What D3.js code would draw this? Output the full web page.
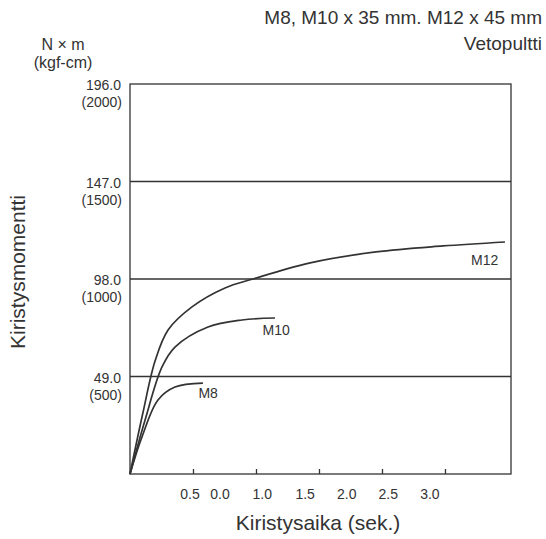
<!DOCTYPE html><html><head><meta charset="utf-8"><script src="https://cdn.jsdelivr.net/npm/d3@7"></script>
<style>body{margin:0;background:#fff}text{font-family:Arial,"Liberation Sans",sans-serif;fill:#333}</style></head><body><script>
const yTicks=[49,98,147,196];
const yTickSub=["(500)","(1000)","(1500)","(2000)"];
const yTickMain=["49.0","98.0","147.0","196.0"];
const xTickMarks=[0.5,1.0,1.5,2.0,2.5];
const xLabels=["0.5","0.0","1.0","1.5","2.0","2.5","3.0"];
const xLabelPos=[0.476,0.714,1.05,1.39,1.72,2.05,2.38];
const m12=[[0,0],[0.1,30],[0.2,57],[0.302,72.4],[0.492,84],[0.754,93.5],[0.976,98],[1.421,106],[1.952,111.6],[2.484,114.6],[2.976,116.6]];
const m10=[[0,0],[0.119,27],[0.254,53.8],[0.357,63.8],[0.619,73.9],[0.889,77.4],[1.151,78.4]];
const m8=[[0,0],[0.095,18.6],[0.222,37.2],[0.357,43.7],[0.579,45.7]];
const series=[{name:"M12",d:m12,lx:2.815,ly:105},{name:"M10",d:m10,lx:1.16,ly:70},{name:"M8",d:m8,lx:0.62,ly:38}];
const W=546,H=539,L=130,R=511,T=84,B=474;
const svg=d3.select("body").append("svg").attr("width",W).attr("height",H);
const x=d3.scaleLinear().domain([0,3.024]).range([L,R]);
const y=d3.scaleLinear().domain([0,196]).range([B,T]);
const c="#333";
svg.append("rect").attr("x",L).attr("y",T).attr("width",R-L).attr("height",B-T).attr("fill","none").attr("stroke",c).attr("stroke-width",1.3);
yTicks.forEach((v,i)=>{
  if(v<196) svg.append("line").attr("x1",L).attr("x2",R).attr("y1",y(v)).attr("y2",y(v)).attr("stroke",c).attr("stroke-width",1.3);
  svg.append("text").attr("x",121).attr("y",y(v)+6).attr("text-anchor","end").attr("font-size",14).text(yTickMain[i]);
  svg.append("text").attr("x",122).attr("y",y(v)+23).attr("text-anchor","end").attr("font-size",14).text(yTickSub[i]);
});
const xa=svg.append("g").attr("transform",`translate(0,${B})`).call(d3.axisTop(x).tickValues(xTickMarks).tickSize(5).tickFormat(""));
xa.select(".domain").remove();xa.selectAll("line").attr("stroke",c).attr("stroke-width",1.3);
xLabels.forEach((t,i)=>svg.append("text").attr("x",x(xLabelPos[i])).attr("y",499).attr("text-anchor","middle").attr("font-size",14).text(t));
const line=d3.line().x(d=>x(d[0])).y(d=>y(d[1])).curve(d3.curveCatmullRom.alpha(0.5));
series.forEach(s=>{
  svg.append("path").attr("d",line(s.d)).attr("fill","none").attr("stroke",c).attr("stroke-width",1.7);
  svg.append("text").attr("x",x(s.lx)).attr("y",y(s.ly)).attr("text-anchor","middle").attr("font-size",14).text(s.name);
});
svg.append("text").attr("x",542).attr("y",24).attr("text-anchor","end").attr("font-size",19).text("M8, M10 x 35 mm. M12 x 45 mm");
svg.append("text").attr("x",542).attr("y",50).attr("text-anchor","end").attr("font-size",19).text("Vetopultti");
svg.append("text").attr("x",63).attr("y",50).attr("text-anchor","middle").attr("font-size",16).text("N × m");
svg.append("text").attr("x",63).attr("y",68).attr("text-anchor","middle").attr("font-size",16).text("(kgf-cm)");
svg.append("text").attr("transform","translate(25,272) rotate(-90)").attr("text-anchor","middle").attr("font-size",21).text("Kiristysmomentti");
svg.append("text").attr("x",318).attr("y",530).attr("text-anchor","middle").attr("font-size",21).text("Kiristysaika (sek.)");
</script></body></html>
